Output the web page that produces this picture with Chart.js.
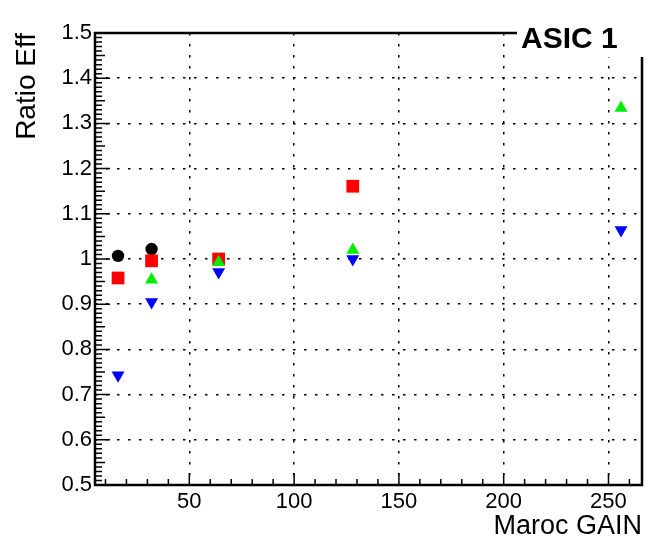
<!DOCTYPE html>
<html>
<head>
<meta charset="utf-8">
<script src="https://cdn.jsdelivr.net/npm/chart.js@4.4.1/dist/chart.umd.min.js"></script>
<style>
  body { margin: 0; background: #fff; }
  #wrap { position: relative; width: 651px; height: 543px; }
</style>
</head>
<body>
<div id="wrap"><canvas id="chart" width="651" height="543"></canvas></div>
<script>
// Maroc gain settings on the x axis
const gain = [16, 32, 64, 128, 256]

// efficiency ratio per series (null = no point)
const ratioBlack = [1.007, 1.022, null, null, null]
const ratioRed   = [0.958, 0.996, 1.000, 1.161, null]
const ratioGreen = [null, 0.954, 0.993, 1.020, 1.334]
const ratioBlue  = [0.743, 0.905, 0.971, 1.000, 1.064]

const xTicks = [50, 100, 150, 200, 250]
const yTicks = [0.5, 0.6, 0.7, 0.8, 0.9, 1.0, 1.1, 1.2, 1.3, 1.4, 1.5]

const FONT = 'Liberation Sans, Arial, Helvetica, sans-serif'

const toPoints = (arr) => gain.map((g, i) => ({x: g, y: arr[i]})).filter(p => p.y !== null)

// ROOT style frame with inward ticks and a title box
const rootFrame = {
    id: 'rootFrame',
    beforeDatasetsDraw(chart) {
        const {ctx, chartArea: a, scales: {x, y}} = chart
        ctx.save()
        ctx.strokeStyle = '#000'
        ctx.lineWidth = 1.5
        ctx.beginPath()
        for (let v = 10; v < x.max; v += 10) {
            const px = x.getPixelForValue(v)
            const len = v % 50 === 0 ? 12 : 6
            ctx.moveTo(px, a.bottom)
            ctx.lineTo(px, a.bottom - len)
        }
        for (let i = 50; i <= 150; i++) {
            const py = y.getPixelForValue(i / 100)
            const len = i % 10 === 0 ? 15 : (i % 5 === 0 ? 10 : 7)
            ctx.moveTo(a.left, py)
            ctx.lineTo(a.left + len, py)
        }
        ctx.stroke()
        ctx.lineWidth = 2.5
        ctx.strokeRect(a.left, a.top, a.right - a.left, a.bottom - a.top)
        ctx.restore()
    },
    afterDraw(chart) {
        const {ctx} = chart
        ctx.save()
        ctx.fillStyle = '#fff'
        ctx.fillRect(517, 0, 134, 57)
        ctx.fillStyle = '#000'
        ctx.font = 'bold 30px ' + FONT
        ctx.textAlign = 'left'
        ctx.textBaseline = 'middle'
        ctx.fillText('ASIC 1', 521, 40)
        ctx.restore()
    }
}

const gridDash = [2.5, 8.5]

new Chart(document.getElementById('chart'), {
    type: 'scatter',
    data: {
        datasets: [
            {label: 'black', data: toPoints(ratioBlack), order: 3,
             pointStyle: 'circle', radius: 6.2, backgroundColor: '#000', borderColor: '#000', borderWidth: 0},
            {label: 'red', data: toPoints(ratioRed), order: 2,
             pointStyle: 'rect', radius: 9, backgroundColor: '#ff0000', borderColor: '#ff0000', borderWidth: 0},
            {label: 'green', data: toPoints(ratioGreen), order: 1,
             pointStyle: 'triangle', radius: 7.5, backgroundColor: '#00ee00', borderColor: '#00ee00', borderWidth: 0},
            {label: 'blue', data: toPoints(ratioBlue), order: 0,
             pointStyle: 'triangle', rotation: 180, radius: 7.5, backgroundColor: '#0000ff', borderColor: '#0000ff', borderWidth: 0}
        ]
    },
    options: {
        responsive: false,
        animation: false,
        layout: {padding: {top: 33, right: 4, left: 0, bottom: 0}},
        plugins: {
            legend: {display: false},
            tooltip: {enabled: false}
        },
        scales: {
            x: {
                type: 'linear',
                min: 5,
                max: 266,
                afterBuildTicks: (s) => { s.ticks = xTicks.map(v => ({value: v})) },
                afterFit: (s) => { s.height = 58 },
                grid: {color: '#000', lineWidth: 1.5, drawTicks: false},
                border: {display: false, dash: gridDash},
                ticks: {color: '#000', padding: 4, font: {family: FONT, size: 22}},
                title: {display: true, text: 'Maroc GAIN', align: 'end', color: '#000',
                        padding: {top: 0, bottom: 0}, font: {family: FONT, size: 27}}
            },
            y: {
                type: 'linear',
                min: 0.5,
                max: 1.5,
                afterBuildTicks: (s) => { s.ticks = yTicks.map(v => ({value: v})) },
                afterFit: (s) => { s.width = 95 },
                grid: {color: '#000', lineWidth: 1.5, drawTicks: false},
                border: {display: false, dash: gridDash},
                ticks: {color: '#000', padding: 3, font: {family: FONT, size: 22},
                        callback: (v) => String(Number(v.toFixed(1)))},
                title: {display: true, text: 'Ratio Eff', align: 'end', color: '#000',
                        padding: {top: 10, bottom: 0}, font: {family: FONT, size: 28}}
            }
        }
    },
    plugins: [rootFrame]
})
</script>
</body>
</html>
